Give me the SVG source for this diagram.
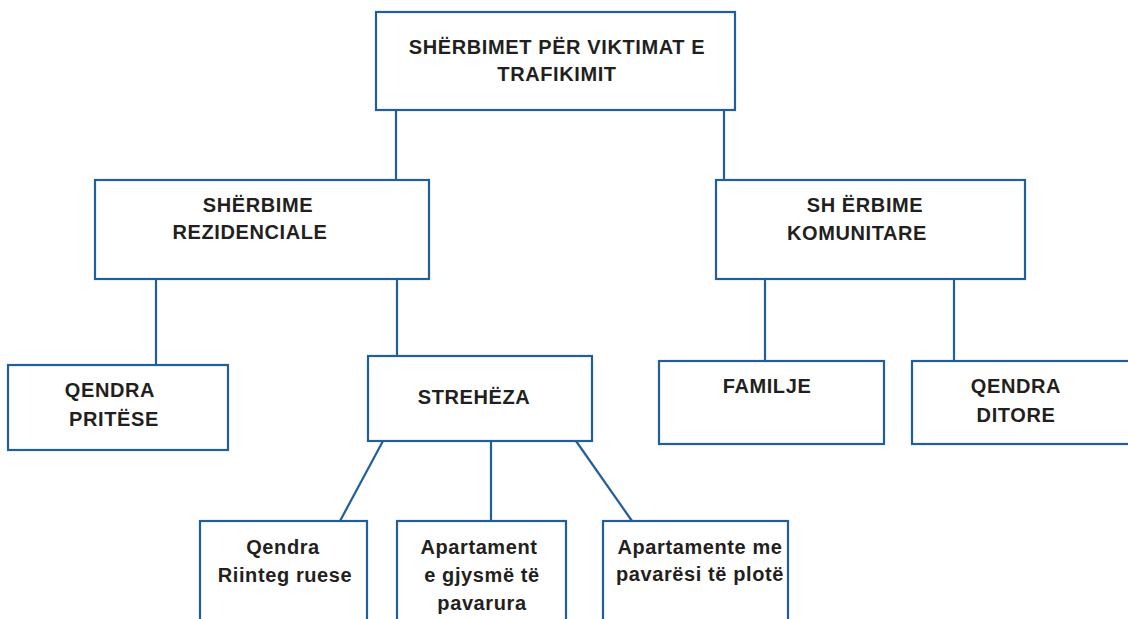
<svg xmlns="http://www.w3.org/2000/svg" width="1128" height="619" viewBox="0 0 1128 619">
<style>
.box{fill:#fff;stroke:#1f5f9c;stroke-width:2.2}
.c line{stroke:#1f5f9c;stroke-width:2.2}
text{font-family:"Liberation Sans",Arial,sans-serif;font-weight:bold;font-size:20px;letter-spacing:0.6px;fill:#231f20;text-anchor:middle}
</style>
<rect width="1128" height="619" fill="#fff"/>
<g class="c" id="connectors">
<line x1="396" y1="110" x2="396" y2="180"/>
<line x1="724" y1="110" x2="724" y2="180"/>
<line x1="156" y1="279" x2="156" y2="365"/>
<line x1="397" y1="279" x2="397" y2="356"/>
<line x1="765" y1="279" x2="765" y2="361"/>
<line x1="954" y1="279" x2="954" y2="361"/>
<line x1="383" y1="441" x2="340" y2="521"/>
<line x1="491" y1="441" x2="491" y2="521"/>
<line x1="576" y1="441" x2="632" y2="521"/>
</g>
<g id="n-top"><rect class="box" x="376" y="12" width="359" height="98"/>
<text x="557" y="54">SHËRBIMET PËR VIKTIMAT E</text><text x="557" y="81">TRAFIKIMIT</text></g>
<g id="n-rez"><rect class="box" x="95" y="180" width="334" height="99"/>
<text x="258" y="212">SHËRBIME</text><text x="250" y="239">REZIDENCIALE</text></g>
<g id="n-kom"><rect class="box" x="716" y="180" width="309" height="99"/>
<text x="865" y="212">SH ËRBIME</text><text x="857" y="240">KOMUNITARE</text></g>
<g id="n-pritese"><rect class="box" x="8" y="365" width="220" height="85"/>
<text x="110" y="397">QENDRA</text><text x="114" y="426">PRITËSE</text></g>
<g id="n-streheza"><rect class="box" x="368" y="356" width="224" height="85"/>
<text x="474" y="404">STREHËZA</text></g>
<g id="n-familje"><rect class="box" x="659" y="361" width="225" height="83"/>
<text x="767" y="393">FAMILJE</text></g>
<g id="n-ditore"><rect class="box" x="912" y="361" width="220" height="83"/>
<text x="1016" y="393">QENDRA</text><text x="1016" y="422">DITORE</text></g>
<g id="n-riintegruese"><rect class="box" x="200" y="521" width="167" height="104"/>
<text x="283" y="554">Qendra</text><text x="285" y="582">Riinteg ruese</text></g>
<g id="n-gjysme"><rect class="box" x="397" y="521" width="169" height="104"/>
<text x="479" y="554">Apartament</text><text x="482" y="582">e gjysmë të</text><text x="482" y="610">pavarura</text></g>
<g id="n-plote"><rect class="box" x="603" y="521" width="185" height="104"/>
<text x="700" y="554">Apartamente me</text><text x="700" y="581">pavarësi të plotë</text></g>
</svg>
